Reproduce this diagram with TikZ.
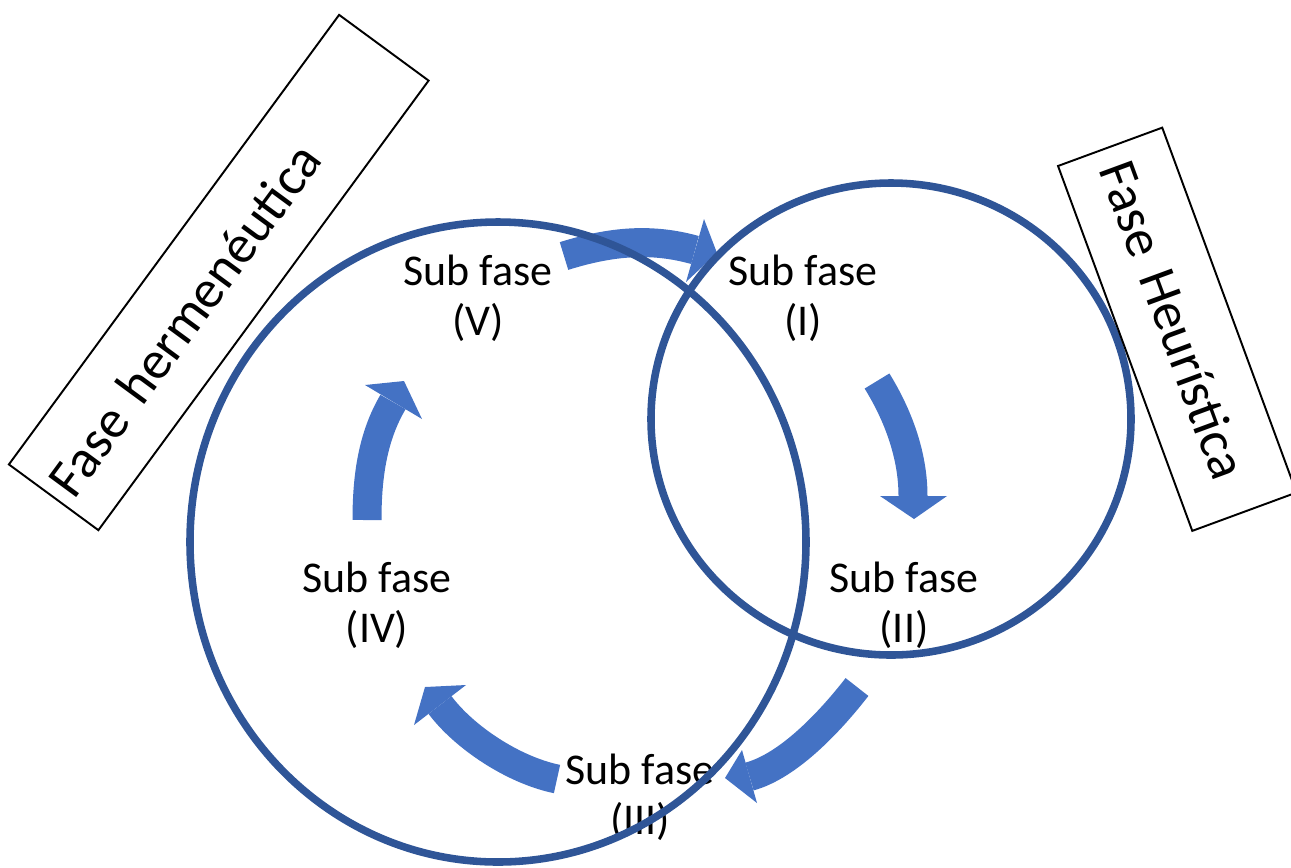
\documentclass[tikz,border=0pt]{standalone}
\usepackage{fontspec}
\setmainfont{Carlito}
\definecolor{arrowblue}{HTML}{4472C4}
\definecolor{ringblue}{HTML}{2F5597}
\begin{document}
\begin{tikzpicture}[x=0.02cm,y=-0.02cm,
  band/.style={draw=arrowblue,line width=16.5pt,line cap=butt},
  headtri/.style={fill=arrowblue},
  ring/.style={draw=ringblue,line width=4.3pt},
  sub/.style={font=\fontsize{25pt}{28.5pt}\selectfont,align=center,inner sep=0pt},
  phasebox/.style={draw=black,line width=1.1pt,minimum height=63.2pt,align=left,
    font=\fontsize{30.7pt}{34pt}\selectfont,inner ysep=0pt}
]
\useasboundingbox (0,0) rectangle (1291,867);

% arrows
\coordinate (a1t) at (564,256); \coordinate (a1b) at (695,250);
\draw[band] (a1t) .. controls (612,241) and (652,238) .. (a1b);
\fill[headtri] (704,219) -- (717,253) -- (686,282) -- cycle;

\coordinate (a2t) at (877,381); \coordinate (a2b) at (913,496);
\draw[band] (a2t) .. controls (898,415) and (913,455) .. (a2b);
\fill[headtri] (880,496) -- (914,519) -- (947,496) -- cycle;

\coordinate (a3t) at (857,687); \coordinate (a3b) at (749.5,776.5);
\draw[band] (a3t) .. controls (829,723) and (788,766) .. (a3b);
\fill[headtri] (742,750) -- (725,778) -- (757,803) -- cycle;

\coordinate (a4t) at (557,779); \coordinate (a4b) at (440,705);
\draw[band] (a4t) .. controls (513,770) and (464,737) .. (a4b);
\fill[headtri] (466,685) -- (425,687) -- (414,725) -- cycle;

\coordinate (a5t) at (367,520); \coordinate (a5b) at (393,402);
\draw[band] (a5t) .. controls (367,475) and (373,436) .. (a5b);
\fill[headtri] (365,385) -- (404,381) -- (422,419) -- cycle;

% labels
\node[sub] (s5) at (478,298) {Sub fase\\(V)};
\node[sub] (s1) at (803,298) {Sub fase\\(I)};
\node[sub] (s2) at (904,605) {Sub fase\\(II)};
\node[sub] (s3) at (640,797) {Sub fase\\(III)};
\node[sub] (s4) at (377,605) {Sub fase\\(IV)};

% circles
\draw[ring] (498,542) ellipse [x radius=308, y radius=320];
\draw[ring] (891,419) ellipse [x radius=240, y radius=236];

% phase boxes
\node[phasebox,rotate=53.7,inner xsep=5.7pt,text width=306.1pt] (herm) at (218.75,272.5) {Fase hermenéutica};
\node[phasebox,rotate=-69.8,inner xsep=9.7pt,text width=201.9pt] (heur) at (1177.25,329.25) {Fase Heurística};
\end{tikzpicture}
\end{document}
